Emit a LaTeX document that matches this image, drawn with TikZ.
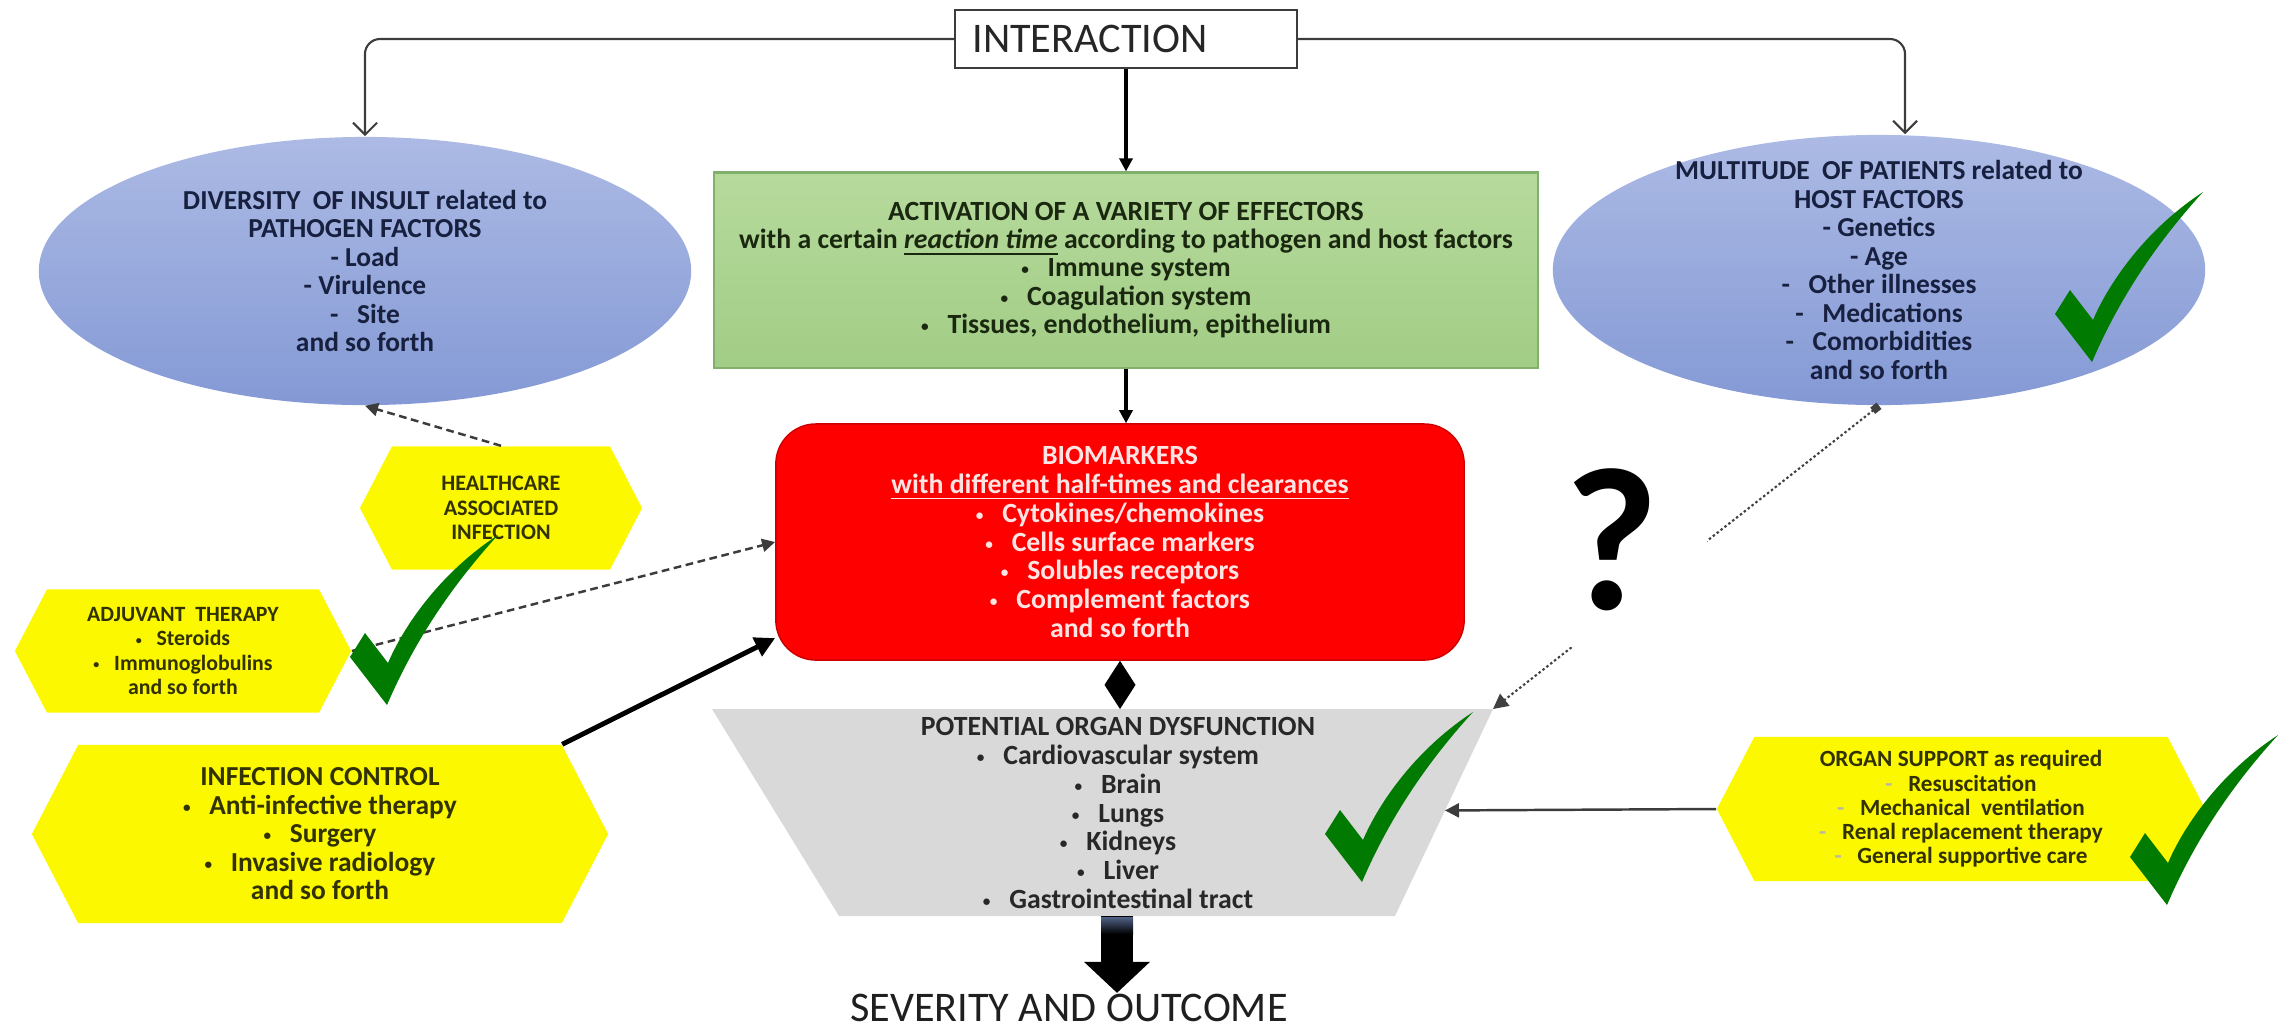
\documentclass[tikz,border=0pt]{standalone}
\usepackage{fontspec}
\setmainfont{Carlito}
\usetikzlibrary{positioning,shapes.geometric,shapes.symbols,arrows.meta,calc}
\definecolor{ovaltop}{RGB}{172,186,228}
\definecolor{ovalbot}{RGB}{132,153,213}
\definecolor{ovaltext}{RGB}{24,32,64}
\definecolor{effgreen}{RGB}{162,205,134}
\definecolor{effgreentop}{RGB}{182,218,156}
\definecolor{effborder}{RGB}{130,176,108}
\definecolor{efftext}{RGB}{26,40,16}
\definecolor{biored}{RGB}{255,0,0}
\definecolor{bioborder}{RGB}{205,0,0}
\definecolor{biotext}{RGB}{255,228,228}
\definecolor{hexyellow}{RGB}{252,248,0}
\definecolor{hextext}{RGB}{50,50,0}
\definecolor{organgray}{RGB}{217,217,217}
\definecolor{organtext}{RGB}{40,40,40}
\definecolor{tickgreen}{RGB}{0,122,0}
\definecolor{linegray}{RGB}{60,60,60}
\definecolor{shafttop}{RGB}{80,98,135}
\newcommand{\fsz}[2]{\fontsize{#1}{#2}\selectfont}
\newcommand{\bul}{\raisebox{0.15ex}{\scalebox{0.55}{•}}}

\tikzset{
  factor/.style={ellipse, top color=ovaltop, bottom color=ovalbot, inner sep=0pt},
  factortext/.style={align=center, text=ovaltext, font=\fsz{7.8}{8.1}\bfseries},
  hexbox/.style={signal, signal to=west and east, signal pointer angle=125,
    fill=hexyellow, text=hextext, align=center, inner sep=0pt},
  thinarrow/.style={draw=linegray, line width=0.6pt, -{Straight Barb[length=1.2mm,width=2.4mm]}},
  mainarrow/.style={line width=0.9pt, -{Triangle[length=1.3mm,width=1.3mm]}},
  dasharrow/.style={draw=linegray, line width=0.7pt, dash pattern=on 2.2pt off 1.3pt,
    -{Triangle[length=1.3mm,width=1.3mm]}},
  greentick/.pic={\fill[tickgreen] (0,0) -- (-37,-48) -- (-22,-72) -- (1,-42)
    .. controls (15,-75) and (50,-130) .. (111,-170)
    .. controls (70,-125) and (30,-70) .. (0,0) -- cycle;}
}

\begin{document}
\begin{tikzpicture}[x=0.01cm, y=-0.01cm]
\useasboundingbox (0,0) rectangle (2290,1029);

% top box and the three branches
\node[draw=linegray, line width=0.6pt, text width=3.07cm, inner xsep=0.17cm, minimum height=0.58cm,
  align=left, text=black!85, font=\fsz{12}{13}] (inter) at (1126,39) {INTERACTION};

\node[factor, minimum width=6.52cm, minimum height=2.68cm] (pathogen) at (365,271) {};
\node[factortext] (pathogen-text) at (pathogen) {DIVERSITY\ \ OF INSULT related to\\PATHOGEN FACTORS\\- Load\\- Virulence\\-\ \ \ Site\\and so forth};

\node[factor, minimum width=6.52cm, minimum height=2.70cm] (host) at (1879,270) {};
\node[factortext] (host-text) at (host) {MULTITUDE\ \ OF PATIENTS related to\\HOST FACTORS\\- Genetics\\- Age\\-\ \ \ Other illnesses\\-\ \ \ Medications\\-\ \ \ Comorbidities\\and so forth};

\node[draw=effborder, line width=0.6pt, top color=effgreentop, bottom color=effgreen,
  minimum width=8.23cm, minimum height=1.95cm, align=center, text=efftext,
  font=\fsz{7.9}{8.0}\bfseries] (effectors) at (1126,270)
  {ACTIVATION OF A VARIETY OF EFFECTORS\\with a certain \underline{\textit{reaction time}} according to pathogen and host factors\\\bul\ \ \ Immune system\\\bul\ \ \ Coagulation system\\\bul\ \ \ Tissues, endothelium, epithelium};

% biomarkers
\node[draw=bioborder, fill=biored, rounded corners=0.4cm, minimum width=6.88cm, minimum height=2.36cm,
  align=center, text=biotext, font=\fsz{7.9}{8.2}\bfseries] (bio) at (1120,542)
  {BIOMARKERS\\\underline{with different half-times and clearances}\\\bul\ \ \ Cytokines/chemokines\\\bul\ \ \ Cells surface markers\\\bul\ \ \ Solubles receptors\\\bul\ \ \ Complement factors\\and so forth};

% organ dysfunction (funnel)
\coordinate (otl) at (712,709);
\coordinate (otr) at (1493,709);
\coordinate (obr) at (1395,916);
\coordinate (obl) at (839,916);
\coordinate (otop) at ($(otl)!0.52!(otr)$);
\coordinate (obot) at ($(obl)!0.5!(obr)$);
\coordinate (oright) at ($(otr)!0.49!(obr)$);
\fill[organgray] (otl) -- (otr) -- (obr) -- (obl) -- cycle;
\node[align=center, text=organtext, font=\fsz{7.9}{8.2}\bfseries] (organ) at (1118,813)
  {POTENTIAL ORGAN DYSFUNCTION\\\bul\ \ \ Cardiovascular system\\\bul\ \ \ Brain\\\bul\ \ \ Lungs\\\bul\ \ \ Kidneys\\\bul\ \ \ Liver\\\bul\ \ \ Gastrointestinal tract};

\node[anchor=base, inner sep=0pt, text=black!88, font=\fsz{12}{13}] (outcome) at (1069,1021) {SEVERITY AND OUTCOME};

% yellow boxes
\node[hexbox, minimum width=2.82cm, minimum height=1.23cm, font=\fsz{6.3}{6.9}\bfseries] (hai) at (501,508)
  {HEALTHCARE\\ASSOCIATED\\INFECTION};
\node[hexbox, minimum width=3.36cm, minimum height=1.23cm, font=\fsz{6.2}{6.9}\bfseries] (adjuvant) at (183,651)
  {ADJUVANT\ \ THERAPY\\\bul\ \ \ Steroids\\\bul\ \ \ Immunoglobulins\\and so forth};
\node[hexbox, minimum width=5.76cm, minimum height=1.78cm, font=\fsz{7.8}{8.1}\bfseries] (infection) at (320,834)
  {INFECTION CONTROL\\\bul\ \ \ Anti-infective therapy\\\bul\ \ \ Surgery\\\bul\ \ \ Invasive radiology\\and so forth};
\node[hexbox, minimum width=4.88cm, minimum height=1.44cm, font=\fsz{6.6}{6.9}\bfseries] (support) at (1961,809)
  {ORGAN SUPPORT as required\\{\color{hextext!35}-}\ \ \ Resuscitation\\{\color{hextext!35}-}\ \ \ Mechanical\ \ ventilation\\{\color{hextext!35}-}\ \ \ Renal replacement therapy\\{\color{hextext!35}-}\ \ \ General supportive care};

% connectors
\draw[thinarrow, rounded corners=0.15cm] (inter.west) -| (pathogen.north);
\draw[thinarrow, rounded corners=0.15cm] (inter.east) -| ([xshift=0.26cm]host.north);
\draw[mainarrow] (inter.south) -- (effectors.north);
\draw[mainarrow] (effectors.south) -- (effectors.south |- bio.north);
\coordinate (dmid) at ($(bio.south)!0.5!(bio.south |- otop)$);
\fill (bio.south) -- ([xshift=0.155cm]dmid) -- (bio.south |- otop) -- ([xshift=-0.155cm]dmid) -- cycle;
\draw[line width=0.32cm, -{Triangle[length=3.1mm,width=6.4mm]}] (obot) -- (obot |- outcome.north);
\shade[top color=shafttop, bottom color=black] (1101,917) rectangle (1133,934);
\draw[dasharrow] (hai.north) -- (pathogen.south);
\draw[dasharrow] (adjuvant.east) -- (bio.west);
\draw[line width=1.4pt, -{Triangle[length=2mm,width=2mm]}] (infection.north east) -- ([yshift=-0.96cm]bio.west);
\draw[draw=black!75, line width=0.6pt, dash pattern=on 0.7pt off 0.7pt,
  {Square[length=0.8mm,width=0.8mm]}-{Triangle[length=1.5mm,width=1.5mm]}] (host.south) -- (otr);
\draw[draw=linegray, line width=0.7pt, -{Triangle[length=1.4mm,width=1.4mm]}] (support.west) -- (oright);

\node[fill=white, minimum width=1.9cm, minimum height=2.14cm, inner sep=0pt,
  font=\fsz{58}{58}\bfseries] (query) at (1612,540) {?};

% check marks
\foreach \bx/\by in {387/705, 2092/362, 1362/882, 2167/905}
  \pic at (\bx,\by) {greentick};
\end{tikzpicture}
\end{document}
